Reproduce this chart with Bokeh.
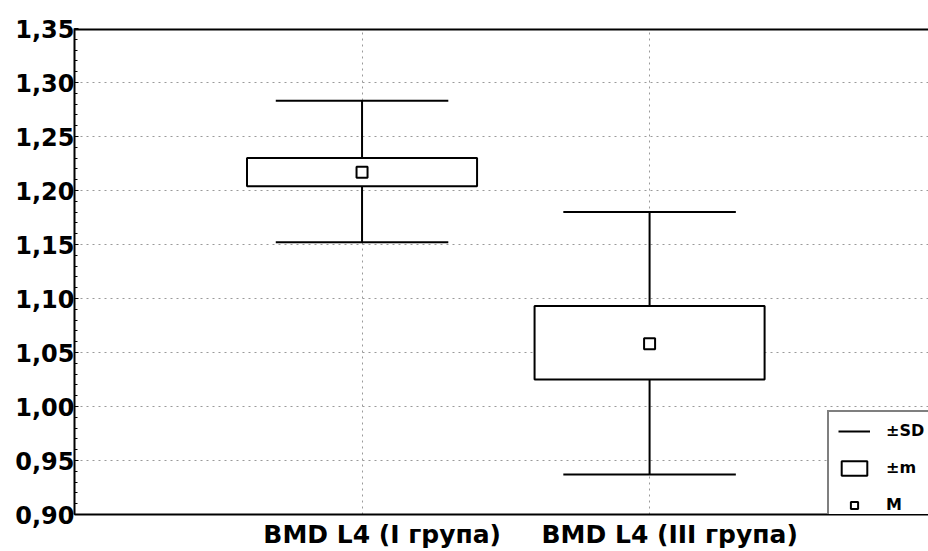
from bokeh.plotting import figure
from bokeh.models import (Range1d, FixedTicker, Legend, LegendItem, Span, Grid)
from bokeh.embed import file_html
from bokeh.resources import INLINE

# ---- data ----
categories = ["BMD L4 (I група)", "BMD L4 (III група)"]
cat_pos = [1, 2]
mean_vals = [1.217, 1.058]
m_low = [1.204, 1.025]
m_high = [1.230, 1.093]
sd_low = [1.152, 0.937]
sd_high = [1.283, 1.180]

y_ticks = [0.90, 0.95, 1.00, 1.05, 1.10, 1.15, 1.20, 1.25, 1.30, 1.35]
y_tick_labels = ["0,90", "0,95", "1,00", "1,05", "1,10", "1,15", "1,20", "1,25", "1,30", "1,35"]
legend_labels = ["±SD", "±m", "M"]

FONT = "DejaVu Sans"
BOX_W = 0.8
CAP_W = 0.6
LABEL_SHIFT = 0.07

p = figure(width=928, height=551, output_backend="svg", toolbar_location=None,
           x_range=Range1d(0, 2.97), y_range=Range1d(y_ticks[0], y_ticks[-1]),
           min_border_left=74, min_border_top=28, min_border_right=0,
           min_border_bottom=35)
p.outline_line_color = None
p.background_fill_color = "white"
p.border_fill_color = "white"

# grids
p.xgrid.visible = False
p.ygrid.ticker = FixedTicker(ticks=y_ticks)
p.ygrid.grid_line_color = "#9a9a9a"
p.ygrid.grid_line_dash = "2 4"
p.ygrid.grid_line_width = 1
vgrid = Grid(dimension=0, ticker=FixedTicker(ticks=cat_pos),
             grid_line_color="#9a9a9a", grid_line_dash="2 4", grid_line_width=1)
p.add_layout(vgrid)

# top border
p.add_layout(Span(location=y_ticks[-1], dimension="width", line_color="black", line_width=4))

# y axis
ya = p.yaxis[0]
ya.ticker = FixedTicker(ticks=y_ticks, minor_ticks=[round(y_ticks[0] + 0.01 * i, 2) for i in range(46)])
ya.major_label_overrides = {t: l for t, l in zip(y_ticks, y_tick_labels)}
ya.major_label_text_font = FONT
ya.major_label_text_font_style = "bold"
ya.major_label_text_font_size = "24px"
ya.major_label_text_color = "black"
ya.major_label_standoff = 0
ya.major_tick_out = 0
ya.major_tick_in = 4
ya.minor_tick_out = 0
ya.minor_tick_in = 3
ya.axis_line_width = 2
ya.axis_line_color = "black"
ya.major_tick_line_color = "black"
ya.minor_tick_line_color = "black"

# x axis
xa = p.xaxis[0]
label_ticks = [c + LABEL_SHIFT for c in cat_pos]
xa.ticker = FixedTicker(ticks=label_ticks)
xa.major_label_overrides = {t: l for t, l in zip(label_ticks, categories)}
xa.major_label_text_font = FONT
xa.major_label_text_font_style = "bold"
xa.major_label_text_font_size = "25px"
xa.major_label_text_color = "black"
xa.major_label_standoff = 5
xa.major_tick_out = 0
xa.major_tick_in = 0
xa.minor_tick_out = 0
xa.minor_tick_in = 0
xa.axis_line_width = 2
xa.axis_line_color = "black"

# whiskers (±SD)
wr = p.segment(x0=cat_pos, y0=sd_low, x1=cat_pos, y1=sd_high, line_color="black", line_width=2)
cap_l = [c - CAP_W / 2 for c in cat_pos]
cap_r = [c + CAP_W / 2 for c in cat_pos]
cr = p.segment(x0=cap_l + cap_l, y0=sd_low + sd_high, x1=cap_r + cap_r, y1=sd_low + sd_high,
               line_color="black", line_width=2)

# boxes (±m)
br = p.vbar(x=cat_pos, width=BOX_W, bottom=m_low, top=m_high,
            fill_color="white", line_color="black", line_width=2)

# means (M)
mr = p.scatter(x=cat_pos, y=mean_vals, marker="square", size=11,
               fill_color="white", line_color="black", line_width=2)

legend = Legend(items=[LegendItem(label=legend_labels[0], renderers=[cr]),
                       LegendItem(label=legend_labels[1], renderers=[br]),
                       LegendItem(label=legend_labels[2], renderers=[mr])],
                location=(753, -11), orientation="vertical",
                glyph_width=32, glyph_height=18, label_height=18, spacing=18,
                padding=9, margin=0, label_standoff=16,
                border_line_color="black", border_line_width=2,
                background_fill_color="white", background_fill_alpha=1.0,
                label_text_font=FONT, label_text_font_style="bold",
                label_text_font_size="16px", label_text_color="black")
p.add_layout(legend, "center")

open("out.html", "w").write(file_html(p, INLINE))
